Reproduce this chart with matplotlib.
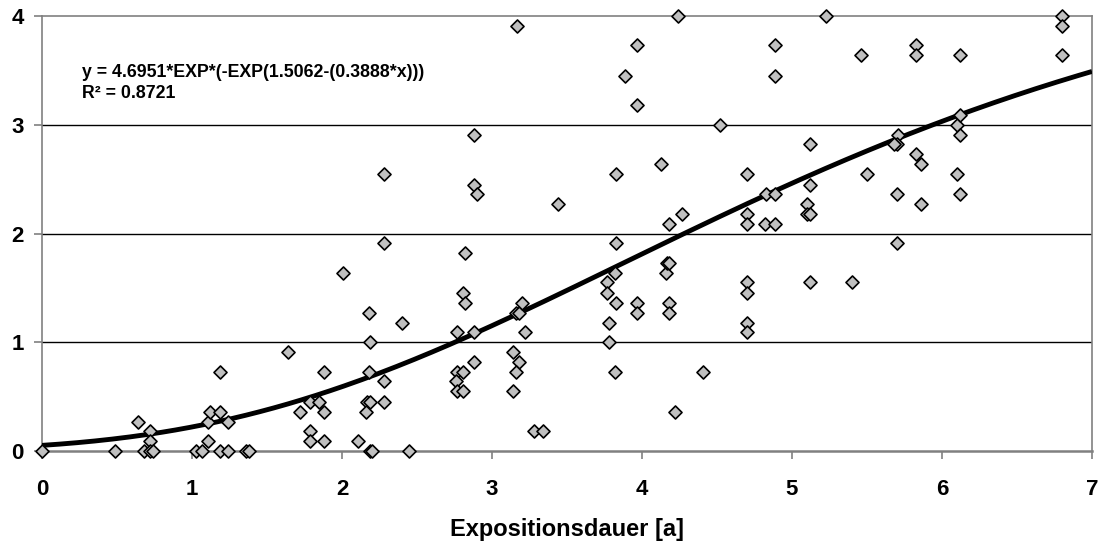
import numpy as np
import matplotlib
matplotlib.use("Agg")
import matplotlib.pyplot as plt

plt.rcParams["font.family"] = ["Liberation Sans", "DejaVu Sans"]

# Messpunkte: Expositionsdauer [a] und Messwert
dauer = [
    0.00, 0.49, 0.64, 0.68, 0.72, 0.72, 0.72, 0.74, 1.03, 1.07,
    1.11, 1.11, 1.12, 1.19, 1.19, 1.19, 1.24, 1.24, 1.36, 1.38,
    1.64, 1.72, 1.79, 1.79, 1.79, 1.85, 1.88, 1.88, 1.88, 2.01,
    2.11, 2.18, 2.19, 2.18, 2.17, 2.19, 2.16, 2.19, 2.20, 2.28,
    2.28, 2.28, 2.28, 2.40, 2.45, 2.77, 2.77, 2.76, 2.77, 2.81,
    2.81, 2.81, 2.82, 2.82, 2.88, 2.88, 2.90, 2.88, 2.88, 3.14,
    3.18, 3.16, 3.14, 3.16, 3.18, 3.20, 3.22, 3.17, 3.28, 3.34,
    3.44, 3.77, 3.77, 3.78, 3.78, 3.82, 3.83, 3.82, 3.83, 3.83,
    3.89, 3.97, 3.97, 3.97, 3.97, 4.13, 4.16, 4.17, 4.18, 4.18,
    4.18, 4.18, 4.22, 4.24, 4.27, 4.41, 4.52, 4.70, 4.70, 4.70,
    4.70, 4.70, 4.70, 4.70, 4.82, 4.83, 4.89, 4.89, 4.89, 4.89,
    5.10, 5.10, 5.12, 5.12, 5.12, 5.12, 5.23, 5.40, 5.46, 5.50,
    5.71, 5.70, 5.68, 5.70, 5.70, 5.83, 5.83, 5.83, 5.86, 5.86,
    6.10, 6.12, 6.12, 6.10, 6.12, 6.12, 6.80, 6.80, 6.80,
]
wert = [
    0.00, 0.00, 0.27, 0.00, 0.18, 0.09, 0.00, 0.00, 0.00, 0.00,
    0.09, 0.27, 0.36, 0.73, 0.36, 0.00, 0.27, 0.00, 0.00, 0.00,
    0.91, 0.36, 0.45, 0.18, 0.09, 0.45, 0.73, 0.36, 0.09, 1.64,
    0.09, 1.27, 1.00, 0.73, 0.45, 0.45, 0.36, 0.00, 0.00, 2.55,
    1.91, 0.64, 0.45, 1.18, 0.00, 1.09, 0.73, 0.64, 0.55, 0.73,
    0.55, 1.45, 1.36, 1.82, 2.91, 2.45, 2.36, 1.09, 0.82, 0.91,
    0.82, 0.73, 0.55, 1.27, 1.27, 1.36, 1.09, 3.91, 0.18, 0.18,
    2.27, 1.55, 1.45, 1.18, 1.00, 1.64, 1.36, 0.73, 2.55, 1.91,
    3.45, 3.73, 3.18, 1.36, 1.27, 2.64, 1.64, 1.73, 1.73, 2.09,
    1.36, 1.27, 0.36, 4.00, 2.18, 0.73, 3.00, 2.55, 2.18, 2.09,
    1.55, 1.45, 1.18, 1.09, 2.09, 2.36, 3.73, 3.45, 2.36, 2.09,
    2.27, 2.18, 2.18, 2.45, 2.82, 1.55, 4.00, 1.55, 3.64, 2.55,
    2.91, 2.82, 2.82, 2.36, 1.91, 3.73, 3.64, 2.73, 2.64, 2.27,
    3.00, 3.09, 2.91, 2.55, 2.36, 3.64, 4.00, 3.91, 3.64,
]

# Parameter der Gompertz-Anpassung
a, b, c = 4.6951, 1.5062, 0.3888
r2 = 0.8721

fig = plt.figure(figsize=(10.99, 5.45), dpi=100)
ax = fig.add_axes([0.0382, 0.1725, 0.9554, 0.7981])

xs = np.linspace(0, 7, 300)
ax.plot(xs, a * np.exp(-np.exp(b - c * xs)), color="black", lw=3.5, zorder=3,
        solid_capstyle="butt")
ax.scatter(dauer, wert, marker="D", s=44, facecolor="#c0c0c0", edgecolor="black",
           linewidth=1.2, zorder=4, clip_on=False)

ax.set_xlim(0, 7)
ax.set_ylim(0, 4)
ax.set_xticks(range(8))
ax.set_yticks(range(5))
for yv in (1, 2, 3):
    ax.axhline(yv, color="black", lw=1.0, zorder=1)

for side in ("top", "right", "left"):
    ax.spines[side].set_color("#808080")
    ax.spines[side].set_linewidth(1.2)
ax.spines["bottom"].set_color("#808080")
ax.spines["bottom"].set_linewidth(1.8)

ax.tick_params(axis="x", length=6, width=1.2, color="#808080", pad=14,
               labelsize=16)
ax.tick_params(axis="y", length=6, width=1.2, color="#808080", pad=7,
               labelsize=16)
for lab in ax.get_xticklabels() + ax.get_yticklabels():
    lab.set_fontweight("bold")

ax.set_xlabel("Expositionsdauer [a]", fontsize=17, fontweight="bold", labelpad=13)

ax.text(0.038, 0.89,
        f"y = {a}*EXP*(-EXP({b}-({c}*x)))\nR² = {r2}",
        transform=ax.transAxes, fontsize=12.8, fontweight="bold",
        va="top", ha="left", linespacing=1.3)

fig.savefig("out.png", dpi=100)
